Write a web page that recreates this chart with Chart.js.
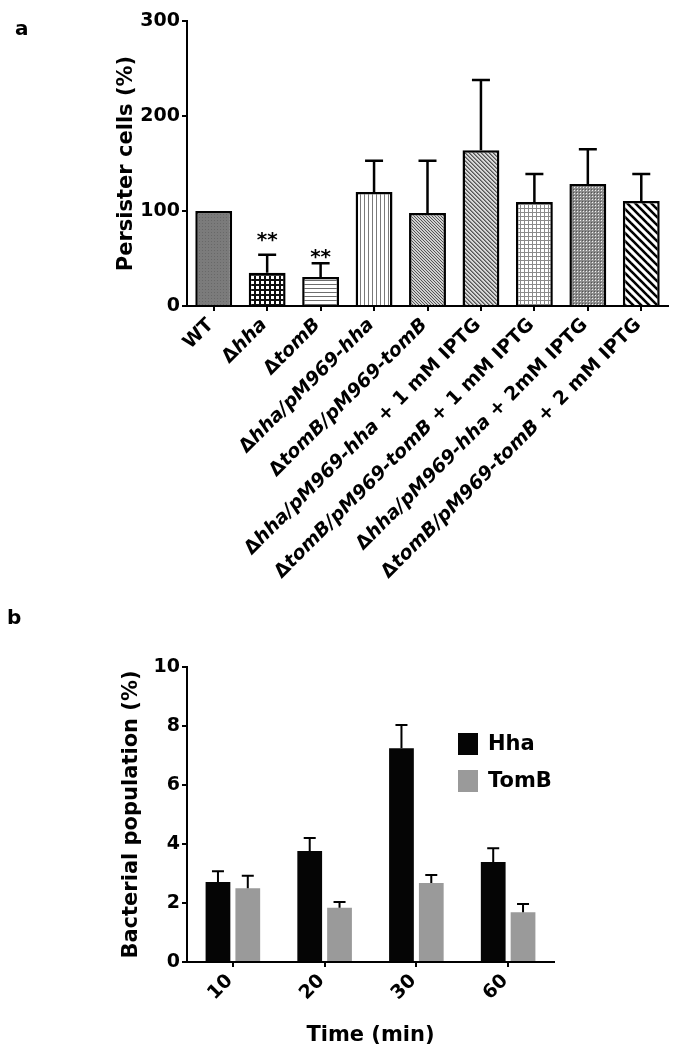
<!doctype html>
<html lang="en">
<head>
<meta charset="utf-8">
<script src="https://cdn.jsdelivr.net/npm/chart.js"></script>
<style>
  body { margin: 0; background: #fff; }
  .wrap { position: absolute; left: 0; }
  .tag { position: absolute; font: bold 20px 'DejaVu Sans', sans-serif; line-height: 20px; color: #000; }
</style>
</head>
<body>
<div class="wrap" style="top:0"><canvas id="chartA" width="675" height="600"></canvas></div>
<div class="wrap" style="top:600px"><canvas id="chartB" width="675" height="453"></canvas></div>
<div class="tag" style="left:15px; top:18px">a</div>
<div class="tag" style="left:7px; top:607px">b</div>

<script>
  // panel a: persister cells
  const strains = ['WT', 'Δhha', 'ΔtomB', 'Δhha/pM969-hha', 'ΔtomB/pM969-tomB',
    'Δhha/pM969-hha + 1 mM IPTG', 'ΔtomB/pM969-tomB + 1 mM IPTG',
    'Δhha/pM969-hha + 2mM IPTG', 'ΔtomB/pM969-tomB + 2 mM IPTG'];
  const persister = [100, 35, 30.5, 120, 98, 164, 109.5, 128.5, 110.5];
  const persisterErr = [0, 19, 14.5, 33, 55, 74, 29.5, 36.5, 28.5];
  const starsAt = [null, 74, 56, null, null, null, null, null, null];
  const yTicksA = [0, 100, 200, 300];

  // panel b: bacterial population over time
  const times = ['10', '20', '30', '60'];
  const hha = [2.71, 3.76, 7.25, 3.39];
  const hhaErr = [0.37, 0.44, 0.78, 0.47];
  const tomB = [2.5, 1.84, 2.68, 1.69];
  const tomBErr = [0.42, 0.19, 0.27, 0.28];
  const yTicksB = [0, 2, 4, 6, 8, 10];

  const fam = "'DejaVu Sans', sans-serif";
  const bold = sz => ({ family: fam, size: sz, weight: 'bold' });

  // small tiles used as bar fills
  function tile(w, h, draw) {
    const c = document.createElement('canvas');
    c.width = w; c.height = h;
    const g = c.getContext('2d');
    draw(g, w, h);
    return g.createPattern(c, 'repeat');
  }
  function px(g, x, y, col) { g.fillStyle = col; g.fillRect(x, y, 1, 1); }

  const patterns = [
    tile(3, 3, g => { g.fillStyle = '#7b7b7b'; g.fillRect(0, 0, 3, 3); px(g, 1, 1, '#686868'); }),
    tile(5, 5, g => { g.fillStyle = '#111'; g.fillRect(0, 0, 5, 5); g.fillStyle = '#fff'; g.fillRect(1, 1, 3, 3); }),
    tile(1, 4, g => { g.fillStyle = '#fff'; g.fillRect(0, 0, 1, 4); px(g, 0, 0, '#6e6e6e'); }),
    tile(4, 1, g => { g.fillStyle = '#fff'; g.fillRect(0, 0, 4, 1); px(g, 0, 0, '#7a7a7a'); }),
    tile(3, 3, g => { g.fillStyle = '#d0d0d0'; g.fillRect(0, 0, 3, 3); for (let k = 0; k < 3; k++) px(g, k, k, '#555'); }),
    tile(4, 4, g => { g.fillStyle = '#d8d8d8'; g.fillRect(0, 0, 4, 4); for (let k = 0; k < 4; k++) { px(g, k, k, '#555'); px(g, (k + 1) % 4, k, '#8a8a8a'); } }),
    tile(4, 4, g => { g.fillStyle = '#fff'; g.fillRect(0, 0, 4, 4); g.fillStyle = '#8a8a8a'; g.fillRect(0, 0, 4, 1); g.fillRect(0, 0, 1, 4); }),
    tile(3, 3, g => { g.fillStyle = '#8c8c8c'; g.fillRect(0, 0, 3, 3); px(g, 1, 1, '#f0f0f0'); px(g, 0, 0, '#555'); }),
    tile(8, 8, g => {
      g.fillStyle = '#fff'; g.fillRect(0, 0, 8, 8);
      g.strokeStyle = '#000'; g.lineWidth = 2.6;
      for (const k of [-8, 0, 8]) { g.beginPath(); g.moveTo(k - 2, -2); g.lineTo(k + 10, 10); g.stroke(); }
    })
  ];

  function splitA(lab) {
    const up = 'bold 19px ' + fam, it = 'italic bold 19px ' + fam;
    if (lab[0] !== 'Δ') return [{ text: lab, font: up }];
    const k = lab.indexOf(' +');
    const segs = [{ text: 'Δ', font: up }, { text: k < 0 ? lab.slice(1) : lab.slice(1, k), font: it }];
    if (k >= 0) segs.push({ text: lab.slice(k), font: up });
    return segs;
  }
  function splitB(lab) { return [{ text: lab, font: 'bold 19px ' + fam }]; }

  // 45 degree labels, end of the text at the tick
  function slantLabels(chart, split) {
    const ctx = chart.ctx, xs = chart.scales.x, y0 = chart.chartArea.bottom + 16;
    ctx.save();
    ctx.fillStyle = '#000';
    ctx.textBaseline = 'middle';
    ctx.textAlign = 'left';
    chart.data.labels.forEach((lab, i) => {
      const segs = split(lab);
      let w = 0;
      segs.forEach(s => { ctx.font = s.font; s.w = ctx.measureText(s.text).width; w += s.w; });
      ctx.save();
      ctx.translate(xs.getPixelForTick(i) - 3, y0);
      ctx.rotate(-Math.PI / 4);
      let x = -w;
      segs.forEach(s => { ctx.font = s.font; ctx.fillText(s.text, x, 0); x += s.w; });
      ctx.restore();
    });
    ctx.restore();
  }

  // upper error bars only
  function errorBars(chart, errs, cap, lw) {
    const ctx = chart.ctx, ys = chart.scales.y;
    ctx.save();
    ctx.strokeStyle = '#000';
    ctx.lineWidth = lw;
    chart.data.datasets.forEach((ds, d) => {
      chart.getDatasetMeta(d).data.forEach((bar, i) => {
        const e = errs[d][i];
        if (!e) return;
        const y1 = ys.getPixelForValue(ds.data[i]), y2 = ys.getPixelForValue(ds.data[i] + e);
        ctx.beginPath();
        ctx.moveTo(bar.x, y1); ctx.lineTo(bar.x, y2);
        ctx.moveTo(bar.x - cap / 2, y2); ctx.lineTo(bar.x + cap / 2, y2);
        ctx.stroke();
      });
    });
    ctx.restore();
  }

  const axisGrid = { display: true, drawOnChartArea: false, offset: false, color: '#000', lineWidth: 2 };
  const axisBorder = { display: true, color: '#000', width: 2 };

  new Chart(document.getElementById('chartA'), {
    type: 'bar',
    data: {
      labels: strains,
      datasets: [{
        data: persister, backgroundColor: patterns, borderColor: '#000', borderWidth: 2.5,
        barPercentage: 0.69, categoryPercentage: 1
      }]
    },
    options: {
      responsive: false, animation: false, devicePixelRatio: 1,
      layout: { padding: { top: 21, right: 7, left: 0, bottom: 0 } },
      plugins: { legend: { display: false }, tooltip: { enabled: false } },
      scales: {
        x: {
          grid: Object.assign({}, axisGrid, { tickLength: 5 }), border: axisBorder,
          ticks: { display: false },
          afterFit: s => { s.height = 294; }
        },
        y: {
          min: 0, max: 300,
          afterBuildTicks: s => { s.ticks = yTicksA.map(v => ({ value: v })); },
          ticks: { color: '#000', font: bold(19), padding: 2 },
          grid: Object.assign({}, axisGrid, { tickLength: 5 }), border: axisBorder,
          title: { display: true, text: 'Persister cells (%)', color: '#000', font: bold(21), padding: 114 },
          afterFit: s => { s.width = 187; }
        }
      }
    },
    plugins: [{
      id: 'extrasA',
      afterDatasetsDraw(chart) {
        errorBars(chart, [persisterErr], 18, 2.5);
        const ctx = chart.ctx, xs = chart.scales.x, ys = chart.scales.y;
        ctx.save();
        ctx.fillStyle = '#000';
        ctx.font = 'bold 20px ' + fam;
        ctx.textAlign = 'center';
        starsAt.forEach((v, i) => {
          if (v === null) return;
          ctx.fillText('**', xs.getPixelForTick(i), ys.getPixelForValue(v) + 10);
        });
        ctx.restore();
      },
      afterDraw(chart) { slantLabels(chart, splitA); }
    }]
  });

  new Chart(document.getElementById('chartB'), {
    type: 'bar',
    data: {
      labels: times,
      datasets: [
        { label: 'Hha', data: hha, backgroundColor: '#050505', categoryPercentage: 0.65, barPercentage: 0.83 },
        { label: 'TomB', data: tomB, backgroundColor: '#9a9a9a', categoryPercentage: 0.65, barPercentage: 0.83 }
      ]
    },
    options: {
      responsive: false, animation: false, devicePixelRatio: 1,
      layout: { padding: { top: 67, right: 121, left: 0, bottom: 0 } },
      plugins: { legend: { display: false }, tooltip: { enabled: false } },
      scales: {
        x: {
          grid: Object.assign({}, axisGrid, { tickLength: 5 }), border: axisBorder,
          ticks: { display: false },
          title: { display: true, text: 'Time (min)', color: '#000', font: bold(21), padding: 5 },
          afterFit: s => { s.height = 91; }
        },
        y: {
          min: 0, max: 10,
          afterBuildTicks: s => { s.ticks = yTicksB.map(v => ({ value: v })); },
          ticks: { color: '#000', font: bold(19), padding: 2 },
          grid: Object.assign({}, axisGrid, { tickLength: 5 }), border: axisBorder,
          title: { display: true, text: 'Bacterial population (%)', color: '#000', font: bold(21), padding: 119 },
          afterFit: s => { s.width = 187; }
        }
      }
    },
    plugins: [{
      id: 'extrasB',
      afterDatasetsDraw(chart) { errorBars(chart, [hhaErr, tomBErr], 12, 2); },
      afterDraw(chart) {
        slantLabels(chart, splitB);
        // legend inside the plot, upper right
        const ctx = chart.ctx, a = chart.chartArea;
        ctx.save();
        ctx.font = 'bold 21px ' + fam;
        ctx.textBaseline = 'middle';
        chart.data.datasets.forEach((ds, d) => {
          const x = a.right - 96, y = a.top + 66 + d * 37;
          ctx.fillStyle = ds.backgroundColor;
          ctx.fillRect(x, y, 20, 22);
          ctx.fillStyle = '#000';
          ctx.fillText(ds.label, x + 30, y + 12);
        });
        ctx.restore();
      }
    }]
  });
</script>
</body>
</html>
